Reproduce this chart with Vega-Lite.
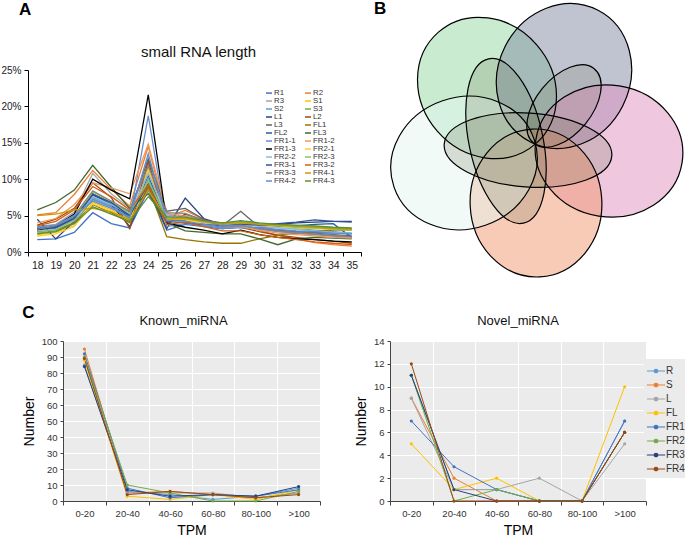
{
"$schema":"https://vega.github.io/schema/vega-lite/v6.json",
"padding":{"left":0,"top":0,"right":0,"bottom":0},
"background":"white",
"config":{"font":"Liberation Sans","view":{"stroke":null},"title":{"fontWeight":"normal","color":"#111"},"axis":{"labelFont":"Liberation Sans","titleFont":"Liberation Sans","titleFontWeight":"normal"}},
"datasets":{
"lens":[
{"s":"R1","x":18,"v":1.7},{"s":"R1","x":19,"v":1.8},{"s":"R1","x":20,"v":2.7},{"s":"R1","x":21,"v":5.4},{"s":"R1","x":22,"v":3.9},{"s":"R1","x":23,"v":3.3},{"s":"R1","x":24,"v":8.5},{"s":"R1","x":25,"v":3.0},{"s":"R1","x":26,"v":3.8},{"s":"R1","x":27,"v":3.5},{"s":"R1","x":28,"v":3.2},{"s":"R1","x":29,"v":3.5},{"s":"R1","x":30,"v":3.2},{"s":"R1","x":31,"v":3.0},{"s":"R1","x":32,"v":2.8},{"s":"R1","x":33,"v":2.7},{"s":"R1","x":34,"v":2.6},{"s":"R1","x":35,"v":2.5},
{"s":"R2","x":18,"v":5.1},{"s":"R2","x":19,"v":5.4},{"s":"R2","x":20,"v":7.9},{"s":"R2","x":21,"v":11.2},{"s":"R2","x":22,"v":8.6},{"s":"R2","x":23,"v":6.3},{"s":"R2","x":24,"v":14.5},{"s":"R2","x":25,"v":4.8},{"s":"R2","x":26,"v":5.7},{"s":"R2","x":27,"v":4.5},{"s":"R2","x":28,"v":3.5},{"s":"R2","x":29,"v":3.8},{"s":"R2","x":30,"v":3.0},{"s":"R2","x":31,"v":2.3},{"s":"R2","x":32,"v":1.8},{"s":"R2","x":33,"v":1.3},{"s":"R2","x":34,"v":1.0},{"s":"R2","x":35,"v":0.8},
{"s":"R3","x":18,"v":3.5},{"s":"R3","x":19,"v":3.8},{"s":"R3","x":20,"v":5.5},{"s":"R3","x":21,"v":10.8},{"s":"R3","x":22,"v":8.0},{"s":"R3","x":23,"v":6.0},{"s":"R3","x":24,"v":12.0},{"s":"R3","x":25,"v":5.2},{"s":"R3","x":26,"v":5.0},{"s":"R3","x":27,"v":4.2},{"s":"R3","x":28,"v":3.5},{"s":"R3","x":29,"v":3.6},{"s":"R3","x":30,"v":3.2},{"s":"R3","x":31,"v":2.8},{"s":"R3","x":32,"v":2.6},{"s":"R3","x":33,"v":2.4},{"s":"R3","x":34,"v":2.2},{"s":"R3","x":35,"v":2.0},
{"s":"S1","x":18,"v":2.4},{"s":"S1","x":19,"v":2.7},{"s":"S1","x":20,"v":3.6},{"s":"S1","x":21,"v":6.8},{"s":"S1","x":22,"v":5.8},{"s":"S1","x":23,"v":4.5},{"s":"S1","x":24,"v":11.5},{"s":"S1","x":25,"v":4.6},{"s":"S1","x":26,"v":4.5},{"s":"S1","x":27,"v":4.0},{"s":"S1","x":28,"v":3.6},{"s":"S1","x":29,"v":3.9},{"s":"S1","x":30,"v":3.8},{"s":"S1","x":31,"v":3.7},{"s":"S1","x":32,"v":3.5},{"s":"S1","x":33,"v":3.4},{"s":"S1","x":34,"v":3.3},{"s":"S1","x":35,"v":3.2},
{"s":"S2","x":18,"v":3.0},{"s":"S2","x":19,"v":3.2},{"s":"S2","x":20,"v":4.4},{"s":"S2","x":21,"v":7.5},{"s":"S2","x":22,"v":6.4},{"s":"S2","x":23,"v":5.0},{"s":"S2","x":24,"v":10.0},{"s":"S2","x":25,"v":5.0},{"s":"S2","x":26,"v":4.8},{"s":"S2","x":27,"v":4.2},{"s":"S2","x":28,"v":3.8},{"s":"S2","x":29,"v":4.2},{"s":"S2","x":30,"v":3.6},{"s":"S2","x":31,"v":3.4},{"s":"S2","x":32,"v":3.2},{"s":"S2","x":33,"v":3.0},{"s":"S2","x":34,"v":2.8},{"s":"S2","x":35,"v":2.6},
{"s":"S3","x":18,"v":2.6},{"s":"S3","x":19,"v":2.9},{"s":"S3","x":20,"v":4.0},{"s":"S3","x":21,"v":7.2},{"s":"S3","x":22,"v":6.2},{"s":"S3","x":23,"v":4.6},{"s":"S3","x":24,"v":9.5},{"s":"S3","x":25,"v":4.9},{"s":"S3","x":26,"v":4.8},{"s":"S3","x":27,"v":4.3},{"s":"S3","x":28,"v":4.0},{"s":"S3","x":29,"v":4.1},{"s":"S3","x":30,"v":3.9},{"s":"S3","x":31,"v":3.8},{"s":"S3","x":32,"v":3.6},{"s":"S3","x":33,"v":3.5},{"s":"S3","x":34,"v":3.3},{"s":"S3","x":35,"v":3.2},
{"s":"L1","x":18,"v":4.5},{"s":"L1","x":19,"v":1.8},{"s":"L1","x":20,"v":4.2},{"s":"L1","x":21,"v":8.0},{"s":"L1","x":22,"v":6.5},{"s":"L1","x":23,"v":3.5},{"s":"L1","x":24,"v":9.0},{"s":"L1","x":25,"v":3.2},{"s":"L1","x":26,"v":7.4},{"s":"L1","x":27,"v":4.6},{"s":"L1","x":28,"v":3.8},{"s":"L1","x":29,"v":3.8},{"s":"L1","x":30,"v":3.6},{"s":"L1","x":31,"v":3.8},{"s":"L1","x":32,"v":4.0},{"s":"L1","x":33,"v":4.1},{"s":"L1","x":34,"v":4.2},{"s":"L1","x":35,"v":4.2},
{"s":"L2","x":18,"v":3.7},{"s":"L2","x":19,"v":4.5},{"s":"L2","x":20,"v":6.0},{"s":"L2","x":21,"v":9.5},{"s":"L2","x":22,"v":7.5},{"s":"L2","x":23,"v":3.2},{"s":"L2","x":24,"v":12.5},{"s":"L2","x":25,"v":3.8},{"s":"L2","x":26,"v":5.2},{"s":"L2","x":27,"v":4.4},{"s":"L2","x":28,"v":3.4},{"s":"L2","x":29,"v":3.4},{"s":"L2","x":30,"v":2.8},{"s":"L2","x":31,"v":2.3},{"s":"L2","x":32,"v":2.0},{"s":"L2","x":33,"v":1.7},{"s":"L2","x":34,"v":1.5},{"s":"L2","x":35,"v":1.2},
{"s":"L3","x":18,"v":3.0},{"s":"L3","x":19,"v":3.4},{"s":"L3","x":20,"v":4.8},{"s":"L3","x":21,"v":8.0},{"s":"L3","x":22,"v":6.8},{"s":"L3","x":23,"v":5.5},{"s":"L3","x":24,"v":12.8},{"s":"L3","x":25,"v":5.6},{"s":"L3","x":26,"v":6.0},{"s":"L3","x":27,"v":4.5},{"s":"L3","x":28,"v":3.6},{"s":"L3","x":29,"v":5.6},{"s":"L3","x":30,"v":3.4},{"s":"L3","x":31,"v":3.0},{"s":"L3","x":32,"v":2.8},{"s":"L3","x":33,"v":2.6},{"s":"L3","x":34,"v":2.4},{"s":"L3","x":35,"v":2.2},
{"s":"FL1","x":18,"v":2.8},{"s":"FL1","x":19,"v":3.0},{"s":"FL1","x":20,"v":4.0},{"s":"FL1","x":21,"v":6.5},{"s":"FL1","x":22,"v":5.4},{"s":"FL1","x":23,"v":4.0},{"s":"FL1","x":24,"v":9.0},{"s":"FL1","x":25,"v":2.1},{"s":"FL1","x":26,"v":1.7},{"s":"FL1","x":27,"v":1.4},{"s":"FL1","x":28,"v":1.2},{"s":"FL1","x":29,"v":1.2},{"s":"FL1","x":30,"v":1.8},{"s":"FL1","x":31,"v":2.3},{"s":"FL1","x":32,"v":2.6},{"s":"FL1","x":33,"v":2.8},{"s":"FL1","x":34,"v":3.0},{"s":"FL1","x":35,"v":3.0},
{"s":"FL2","x":18,"v":3.2},{"s":"FL2","x":19,"v":3.3},{"s":"FL2","x":20,"v":4.6},{"s":"FL2","x":21,"v":7.8},{"s":"FL2","x":22,"v":6.6},{"s":"FL2","x":23,"v":4.8},{"s":"FL2","x":24,"v":10.5},{"s":"FL2","x":25,"v":4.4},{"s":"FL2","x":26,"v":4.3},{"s":"FL2","x":27,"v":3.6},{"s":"FL2","x":28,"v":3.2},{"s":"FL2","x":29,"v":3.4},{"s":"FL2","x":30,"v":3.3},{"s":"FL2","x":31,"v":3.5},{"s":"FL2","x":32,"v":3.6},{"s":"FL2","x":33,"v":3.8},{"s":"FL2","x":34,"v":3.9},{"s":"FL2","x":35,"v":2.0},
{"s":"FL3","x":18,"v":5.8},{"s":"FL3","x":19,"v":6.8},{"s":"FL3","x":20,"v":8.5},{"s":"FL3","x":21,"v":11.9},{"s":"FL3","x":22,"v":8.9},{"s":"FL3","x":23,"v":6.0},{"s":"FL3","x":24,"v":8.0},{"s":"FL3","x":25,"v":4.0},{"s":"FL3","x":26,"v":2.9},{"s":"FL3","x":27,"v":2.7},{"s":"FL3","x":28,"v":2.5},{"s":"FL3","x":29,"v":2.5},{"s":"FL3","x":30,"v":1.8},{"s":"FL3","x":31,"v":1.0},{"s":"FL3","x":32,"v":1.8},{"s":"FL3","x":33,"v":2.0},{"s":"FL3","x":34,"v":1.9},{"s":"FL3","x":35,"v":1.8},
{"s":"FR1-1","x":18,"v":3.3},{"s":"FR1-1","x":19,"v":3.5},{"s":"FR1-1","x":20,"v":4.9},{"s":"FR1-1","x":21,"v":7.3},{"s":"FR1-1","x":22,"v":6.2},{"s":"FR1-1","x":23,"v":4.6},{"s":"FR1-1","x":24,"v":18.7},{"s":"FR1-1","x":25,"v":3.5},{"s":"FR1-1","x":26,"v":3.9},{"s":"FR1-1","x":27,"v":3.6},{"s":"FR1-1","x":28,"v":3.2},{"s":"FR1-1","x":29,"v":3.4},{"s":"FR1-1","x":30,"v":3.1},{"s":"FR1-1","x":31,"v":2.8},{"s":"FR1-1","x":32,"v":2.6},{"s":"FR1-1","x":33,"v":2.4},{"s":"FR1-1","x":34,"v":2.2},{"s":"FR1-1","x":35,"v":2.0},
{"s":"FR1-2","x":18,"v":4.0},{"s":"FR1-2","x":19,"v":4.6},{"s":"FR1-2","x":20,"v":6.5},{"s":"FR1-2","x":21,"v":9.5},{"s":"FR1-2","x":22,"v":8.8},{"s":"FR1-2","x":23,"v":8.0},{"s":"FR1-2","x":24,"v":14.8},{"s":"FR1-2","x":25,"v":5.3},{"s":"FR1-2","x":26,"v":4.9},{"s":"FR1-2","x":27,"v":4.0},{"s":"FR1-2","x":28,"v":3.4},{"s":"FR1-2","x":29,"v":3.5},{"s":"FR1-2","x":30,"v":3.0},{"s":"FR1-2","x":31,"v":2.6},{"s":"FR1-2","x":32,"v":2.4},{"s":"FR1-2","x":33,"v":2.2},{"s":"FR1-2","x":34,"v":2.0},{"s":"FR1-2","x":35,"v":1.9},
{"s":"FR1-3","x":18,"v":3.0},{"s":"FR1-3","x":19,"v":3.6},{"s":"FR1-3","x":20,"v":5.2},{"s":"FR1-3","x":21,"v":10.0},{"s":"FR1-3","x":22,"v":8.5},{"s":"FR1-3","x":23,"v":7.3},{"s":"FR1-3","x":24,"v":21.6},{"s":"FR1-3","x":25,"v":4.0},{"s":"FR1-3","x":26,"v":3.4},{"s":"FR1-3","x":27,"v":3.0},{"s":"FR1-3","x":28,"v":2.5},{"s":"FR1-3","x":29,"v":3.0},{"s":"FR1-3","x":30,"v":2.4},{"s":"FR1-3","x":31,"v":2.0},{"s":"FR1-3","x":32,"v":1.8},{"s":"FR1-3","x":33,"v":1.7},{"s":"FR1-3","x":34,"v":1.5},{"s":"FR1-3","x":35,"v":1.4},
{"s":"FR2-1","x":18,"v":2.2},{"s":"FR2-1","x":19,"v":2.5},{"s":"FR2-1","x":20,"v":3.5},{"s":"FR2-1","x":21,"v":6.6},{"s":"FR2-1","x":22,"v":5.6},{"s":"FR2-1","x":23,"v":4.3},{"s":"FR2-1","x":24,"v":11.0},{"s":"FR2-1","x":25,"v":4.6},{"s":"FR2-1","x":26,"v":4.4},{"s":"FR2-1","x":27,"v":3.9},{"s":"FR2-1","x":28,"v":3.6},{"s":"FR2-1","x":29,"v":3.7},{"s":"FR2-1","x":30,"v":3.6},{"s":"FR2-1","x":31,"v":3.4},{"s":"FR2-1","x":32,"v":3.3},{"s":"FR2-1","x":33,"v":3.2},{"s":"FR2-1","x":34,"v":3.1},{"s":"FR2-1","x":35,"v":3.0},
{"s":"FR2-2","x":18,"v":2.9},{"s":"FR2-2","x":19,"v":3.1},{"s":"FR2-2","x":20,"v":4.3},{"s":"FR2-2","x":21,"v":7.6},{"s":"FR2-2","x":22,"v":6.5},{"s":"FR2-2","x":23,"v":5.2},{"s":"FR2-2","x":24,"v":10.8},{"s":"FR2-2","x":25,"v":5.0},{"s":"FR2-2","x":26,"v":4.7},{"s":"FR2-2","x":27,"v":4.1},{"s":"FR2-2","x":28,"v":3.7},{"s":"FR2-2","x":29,"v":3.9},{"s":"FR2-2","x":30,"v":3.5},{"s":"FR2-2","x":31,"v":3.3},{"s":"FR2-2","x":32,"v":3.1},{"s":"FR2-2","x":33,"v":2.9},{"s":"FR2-2","x":34,"v":2.7},{"s":"FR2-2","x":35,"v":2.6},
{"s":"FR2-3","x":18,"v":2.7},{"s":"FR2-3","x":19,"v":3.0},{"s":"FR2-3","x":20,"v":4.4},{"s":"FR2-3","x":21,"v":8.3},{"s":"FR2-3","x":22,"v":6.9},{"s":"FR2-3","x":23,"v":5.3},{"s":"FR2-3","x":24,"v":9.8},{"s":"FR2-3","x":25,"v":4.7},{"s":"FR2-3","x":26,"v":4.6},{"s":"FR2-3","x":27,"v":4.2},{"s":"FR2-3","x":28,"v":3.9},{"s":"FR2-3","x":29,"v":4.0},{"s":"FR2-3","x":30,"v":3.8},{"s":"FR2-3","x":31,"v":3.6},{"s":"FR2-3","x":32,"v":3.4},{"s":"FR2-3","x":33,"v":3.3},{"s":"FR2-3","x":34,"v":3.1},{"s":"FR2-3","x":35,"v":3.0},
{"s":"FR3-1","x":18,"v":3.2},{"s":"FR3-1","x":19,"v":3.4},{"s":"FR3-1","x":20,"v":4.6},{"s":"FR3-1","x":21,"v":7.9},{"s":"FR3-1","x":22,"v":6.8},{"s":"FR3-1","x":23,"v":5.0},{"s":"FR3-1","x":24,"v":9.3},{"s":"FR3-1","x":25,"v":4.2},{"s":"FR3-1","x":26,"v":4.0},{"s":"FR3-1","x":27,"v":3.8},{"s":"FR3-1","x":28,"v":3.6},{"s":"FR3-1","x":29,"v":3.8},{"s":"FR3-1","x":30,"v":3.7},{"s":"FR3-1","x":31,"v":3.9},{"s":"FR3-1","x":32,"v":4.1},{"s":"FR3-1","x":33,"v":4.4},{"s":"FR3-1","x":34,"v":4.2},{"s":"FR3-1","x":35,"v":4.1},
{"s":"FR3-2","x":18,"v":3.6},{"s":"FR3-2","x":19,"v":4.2},{"s":"FR3-2","x":20,"v":5.8},{"s":"FR3-2","x":21,"v":9.0},{"s":"FR3-2","x":22,"v":7.6},{"s":"FR3-2","x":23,"v":5.8},{"s":"FR3-2","x":24,"v":9.2},{"s":"FR3-2","x":25,"v":3.8},{"s":"FR3-2","x":26,"v":4.1},{"s":"FR3-2","x":27,"v":3.5},{"s":"FR3-2","x":28,"v":2.9},{"s":"FR3-2","x":29,"v":2.9},{"s":"FR3-2","x":30,"v":2.4},{"s":"FR3-2","x":31,"v":2.0},{"s":"FR3-2","x":32,"v":1.7},{"s":"FR3-2","x":33,"v":1.4},{"s":"FR3-2","x":34,"v":1.2},{"s":"FR3-2","x":35,"v":1.0},
{"s":"FR3-3","x":18,"v":3.1},{"s":"FR3-3","x":19,"v":3.6},{"s":"FR3-3","x":20,"v":5.0},{"s":"FR3-3","x":21,"v":8.4},{"s":"FR3-3","x":22,"v":7.0},{"s":"FR3-3","x":23,"v":5.6},{"s":"FR3-3","x":24,"v":11.8},{"s":"FR3-3","x":25,"v":5.4},{"s":"FR3-3","x":26,"v":5.3},{"s":"FR3-3","x":27,"v":4.3},{"s":"FR3-3","x":28,"v":3.6},{"s":"FR3-3","x":29,"v":3.7},{"s":"FR3-3","x":30,"v":3.2},{"s":"FR3-3","x":31,"v":2.9},{"s":"FR3-3","x":32,"v":2.7},{"s":"FR3-3","x":33,"v":2.5},{"s":"FR3-3","x":34,"v":2.3},{"s":"FR3-3","x":35,"v":2.1},
{"s":"FR4-1","x":18,"v":5.0},{"s":"FR4-1","x":19,"v":5.2},{"s":"FR4-1","x":20,"v":5.8},{"s":"FR4-1","x":21,"v":6.0},{"s":"FR4-1","x":22,"v":5.5},{"s":"FR4-1","x":23,"v":4.4},{"s":"FR4-1","x":24,"v":8.5},{"s":"FR4-1","x":25,"v":4.5},{"s":"FR4-1","x":26,"v":4.6},{"s":"FR4-1","x":27,"v":4.2},{"s":"FR4-1","x":28,"v":3.9},{"s":"FR4-1","x":29,"v":4.0},{"s":"FR4-1","x":30,"v":3.8},{"s":"FR4-1","x":31,"v":3.7},{"s":"FR4-1","x":32,"v":3.6},{"s":"FR4-1","x":33,"v":3.4},{"s":"FR4-1","x":34,"v":3.2},{"s":"FR4-1","x":35,"v":3.1},
{"s":"FR4-2","x":18,"v":3.4},{"s":"FR4-2","x":19,"v":3.7},{"s":"FR4-2","x":20,"v":5.0},{"s":"FR4-2","x":21,"v":7.0},{"s":"FR4-2","x":22,"v":6.0},{"s":"FR4-2","x":23,"v":4.8},{"s":"FR4-2","x":24,"v":13.5},{"s":"FR4-2","x":25,"v":4.3},{"s":"FR4-2","x":26,"v":4.2},{"s":"FR4-2","x":27,"v":3.8},{"s":"FR4-2","x":28,"v":3.4},{"s":"FR4-2","x":29,"v":3.6},{"s":"FR4-2","x":30,"v":3.3},{"s":"FR4-2","x":31,"v":3.1},{"s":"FR4-2","x":32,"v":2.9},{"s":"FR4-2","x":33,"v":2.8},{"s":"FR4-2","x":34,"v":2.6},{"s":"FR4-2","x":35,"v":2.5},
{"s":"FR4-3","x":18,"v":2.5},{"s":"FR4-3","x":19,"v":2.8},{"s":"FR4-3","x":20,"v":3.9},{"s":"FR4-3","x":21,"v":6.2},{"s":"FR4-3","x":22,"v":5.2},{"s":"FR4-3","x":23,"v":4.2},{"s":"FR4-3","x":24,"v":7.6},{"s":"FR4-3","x":25,"v":4.8},{"s":"FR4-3","x":26,"v":4.8},{"s":"FR4-3","x":27,"v":4.3},{"s":"FR4-3","x":28,"v":4.0},{"s":"FR4-3","x":29,"v":4.3},{"s":"FR4-3","x":30,"v":4.0},{"s":"FR4-3","x":31,"v":3.8},{"s":"FR4-3","x":32,"v":3.7},{"s":"FR4-3","x":33,"v":3.6},{"s":"FR4-3","x":34,"v":3.4},{"s":"FR4-3","x":35,"v":3.3}
],
"venn":[
{"set":"s1","kind":"outer","cx":-45,"cy":51,"ang":49},
{"set":"s2","kind":"outer","cx":32,"cy":63,"ang":117},
{"set":"s3","kind":"outer","cx":77,"cy":-12,"ang":9},
{"set":"s4","kind":"outer","cx":4,"cy":-64,"ang":87},
{"set":"s5","kind":"outer","cx":-68,"cy":-24,"ang":161},
{"set":"i1","kind":"long","cx":-26,"cy":-2,"ang":78},
{"set":"i2","kind":"long","cx":-4,"cy":-11,"ang":4},
{"set":"i3","kind":"short","cx":32,"cy":33,"ang":129}
],
"known":[
{"s":"R","t":"0-20","v":85},{"s":"R","t":"20-40","v":6},{"s":"R","t":"40-60","v":4},{"s":"R","t":"60-80","v":1},{"s":"R","t":"80-100","v":3},{"s":"R","t":">100","v":8},
{"s":"S","t":"0-20","v":95},{"s":"S","t":"20-40","v":5},{"s":"S","t":"40-60","v":6},{"s":"S","t":"60-80","v":4},{"s":"S","t":"80-100","v":2},{"s":"S","t":">100","v":5},
{"s":"L","t":"0-20","v":90},{"s":"L","t":"20-40","v":5},{"s":"L","t":"40-60","v":5},{"s":"L","t":"60-80","v":5},{"s":"L","t":"80-100","v":2},{"s":"L","t":">100","v":5},
{"s":"FL","t":"0-20","v":88},{"s":"FL","t":"20-40","v":3},{"s":"FL","t":"40-60","v":1},{"s":"FL","t":"60-80","v":4},{"s":"FL","t":"80-100","v":1},{"s":"FL","t":">100","v":7},
{"s":"FR1","t":"0-20","v":92},{"s":"FR1","t":"20-40","v":8},{"s":"FR1","t":"40-60","v":2},{"s":"FR1","t":"60-80","v":4},{"s":"FR1","t":"80-100","v":3},{"s":"FR1","t":">100","v":7},
{"s":"FR2","t":"0-20","v":90},{"s":"FR2","t":"20-40","v":10},{"s":"FR2","t":"40-60","v":5},{"s":"FR2","t":"60-80","v":0},{"s":"FR2","t":"80-100","v":0},{"s":"FR2","t":">100","v":6},
{"s":"FR3","t":"0-20","v":84},{"s":"FR3","t":"20-40","v":7},{"s":"FR3","t":"40-60","v":3},{"s":"FR3","t":"60-80","v":4},{"s":"FR3","t":"80-100","v":3},{"s":"FR3","t":">100","v":9},
{"s":"FR4","t":"0-20","v":89},{"s":"FR4","t":"20-40","v":4},{"s":"FR4","t":"40-60","v":6},{"s":"FR4","t":"60-80","v":4},{"s":"FR4","t":"80-100","v":2},{"s":"FR4","t":">100","v":4}
],
"novel":[
{"s":"R","t":"0-20","v":11},{"s":"R","t":"20-40","v":1},{"s":"R","t":"40-60","v":1},{"s":"R","t":"60-80","v":0},{"s":"R","t":"80-100","v":0},{"s":"R","t":">100","v":7},
{"s":"S","t":"0-20","v":9},{"s":"S","t":"20-40","v":2},{"s":"S","t":"40-60","v":0},{"s":"S","t":"60-80","v":0},{"s":"S","t":"80-100","v":0},{"s":"S","t":">100","v":6},
{"s":"L","t":"0-20","v":9},{"s":"L","t":"20-40","v":1},{"s":"L","t":"40-60","v":1},{"s":"L","t":"60-80","v":2},{"s":"L","t":"80-100","v":0},{"s":"L","t":">100","v":5},
{"s":"FL","t":"0-20","v":5},{"s":"FL","t":"20-40","v":1},{"s":"FL","t":"40-60","v":2},{"s":"FL","t":"60-80","v":0},{"s":"FL","t":"80-100","v":0},{"s":"FL","t":">100","v":10},
{"s":"FR1","t":"0-20","v":7},{"s":"FR1","t":"20-40","v":3},{"s":"FR1","t":"40-60","v":1},{"s":"FR1","t":"60-80","v":0},{"s":"FR1","t":"80-100","v":0},{"s":"FR1","t":">100","v":7},
{"s":"FR2","t":"0-20","v":11},{"s":"FR2","t":"20-40","v":0},{"s":"FR2","t":"40-60","v":1},{"s":"FR2","t":"60-80","v":0},{"s":"FR2","t":"80-100","v":0},{"s":"FR2","t":">100","v":6},
{"s":"FR3","t":"0-20","v":11},{"s":"FR3","t":"20-40","v":1},{"s":"FR3","t":"40-60","v":0},{"s":"FR3","t":"60-80","v":0},{"s":"FR3","t":"80-100","v":0},{"s":"FR3","t":">100","v":6},
{"s":"FR4","t":"0-20","v":12},{"s":"FR4","t":"20-40","v":0},{"s":"FR4","t":"40-60","v":0},{"s":"FR4","t":"60-80","v":0},{"s":"FR4","t":"80-100","v":0},{"s":"FR4","t":">100","v":6}
]
},
"resolve":{"scale":{"color":"independent"},"legend":{"color":"independent"}},
"spacing":24,
"center":true,
"vconcat":[
{"resolve":{"scale":{"color":"independent"},"legend":{"color":"independent"}},
 "hconcat":[
 {"title":{"text":"A","anchor":"start","fontSize":17,"fontWeight":"bold","dx":18,"offset":26,"color":"#000"},
  "vconcat":[
  {"width":333,"height":182,
   "title":{"text":"small RNA length","fontSize":15,"offset":5,"frame":"group","dx":4},
   "data":{"name":"lens"},
   "mark":{"type":"line","strokeWidth":1.3},
   "encoding":{
    "x":{"field":"x","type":"ordinal","bandPosition":0.5,"scale":{"type":"band","paddingInner":0,"paddingOuter":0},
         "axis":{"title":null,"labelAngle":0,"tickBand":"extent","domainColor":"#000","tickColor":"#000","tickSize":4,"labelFontSize":10.5,"labelColor":"#222","labelPadding":4}},
    "y":{"field":"v","type":"quantitative","scale":{"domain":[0,25]},
         "axis":{"title":null,"values":[0,5,10,15,20,25],"labelExpr":"datum.value + '%'","grid":false,"domainColor":"#000","tickColor":"#000","tickSize":4,"labelFontSize":10,"labelColor":"#222","labelPadding":3}},
    "color":{"field":"s","type":"nominal",
      "scale":{"domain":["R1","R2","R3","S1","S2","S3","L1","L2","L3","FL1","FL2","FL3","FR1-1","FR1-2","FR1-3","FR2-1","FR2-2","FR2-3","FR3-1","FR3-2","FR3-3","FR4-1","FR4-2","FR4-3"],
               "range":["#4472C4","#ED7D31","#A5A5A5","#FFC000","#5B9BD5","#70AD47","#264478","#9E480E","#636363","#997300","#255E91","#43682B","#698ED0","#F1975A","#000000","#FFCD33","#8DB9E2","#8CC168","#31519A","#D26012","#848484","#CC9A00","#5F8FD0","#5C8F39"]},
      "legend":{"orient":"none","legendX":237,"legendY":19,"columns":2,"direction":"horizontal","title":null,"symbolType":"stroke","symbolSize":36,"symbolStrokeWidth":1.5,"labelFontSize":7.8,"labelColor":"#333","rowPadding":0,"columnPadding":6,"labelOffset":1,"padding":0}}
   }}
  ]},
 {"width":354,"height":207,
  "title":{"text":"B","anchor":"start","fontSize":17,"fontWeight":"bold","dx":4,"offset":-17,"color":"#000"},
  "data":{"name":"venn"},
  "encoding":{
    "x":{"field":"cx","type":"quantitative","scale":{"domain":[-162,192],"nice":false,"zero":false},"axis":null},
    "y":{"field":"cy","type":"quantitative","scale":{"domain":[-138,69],"nice":false,"zero":false},"axis":null},
    "angle":{"field":"ang","type":"quantitative","scale":{"domain":[0,360],"range":[0,360]}}
  },
  "layer":[
   {"transform":[{"filter":"datum.kind == 'outer'"}],
    "mark":{"type":"point","filled":true,"shape":"M-1,0A1,0.89,0,1,1,1,0A1,0.89,0,1,1,-1,0Z","size":21904,"opacity":0.5,"strokeWidth":0},
    "encoding":{"color":{"field":"set","type":"nominal","scale":{"domain":["s1","s2","s3","s4","s5"],"range":["#93d9a1","#8189a1","#df91c1","#f1976f","#e5f5f1"]},"legend":null}}},
   {"transform":[{"filter":"datum.kind == 'long'"}],
    "mark":{"type":"point","filled":true,"shape":"M-1,0A1,0.44,0,1,1,1,0A1,0.44,0,1,1,-1,0Z","size":28224,"color":"#6f7050","opacity":0.22,"strokeWidth":0}},
   {"transform":[{"filter":"datum.kind == 'short'"}],
    "mark":{"type":"point","filled":true,"shape":"M-1,0A1,0.58,0,1,1,1,0A1,0.58,0,1,1,-1,0Z","size":9216,"color":"#6f7050","opacity":0.18,"strokeWidth":0}},
   {"transform":[{"filter":"datum.kind == 'outer'"}],
    "mark":{"type":"point","filled":false,"shape":"M-1,0A1,0.89,0,1,1,1,0A1,0.89,0,1,1,-1,0Z","size":21904,"color":"#000","opacity":1,"strokeWidth":1.2}},
   {"transform":[{"filter":"datum.kind == 'long'"}],
    "mark":{"type":"point","filled":false,"shape":"M-1,0A1,0.44,0,1,1,1,0A1,0.44,0,1,1,-1,0Z","size":28224,"color":"#000","opacity":1,"strokeWidth":1.2}},
   {"transform":[{"filter":"datum.kind == 'short'"}],
    "mark":{"type":"point","filled":false,"shape":"M-1,0A1,0.58,0,1,1,1,0A1,0.58,0,1,1,-1,0Z","size":9216,"color":"#000","opacity":1,"strokeWidth":1.2}}
  ]}
 ],"spacing":8},
{"title":{"text":"C","anchor":"start","fontSize":17,"fontWeight":"bold","dx":0,"offset":-7,"color":"#000"},
 "resolve":{"scale":{"color":"independent"},"legend":{"color":"independent"}},
 "spacing":33,
 "hconcat":[
 {"width":257,"height":160,
  "view":{"fill":"#ebebeb","stroke":null},
  "title":{"text":"Known_miRNA","fontSize":13,"offset":8,"frame":"group","dx":-8},
  "data":{"name":"known"},
  "mark":{"type":"line","strokeWidth":1,"point":{"filled":true,"size":10}},
  "encoding":{
   "x":{"field":"t","type":"ordinal","bandPosition":0.5,"sort":["0-20","20-40","40-60","60-80","80-100",">100"],"scale":{"type":"band","paddingInner":0,"paddingOuter":0},
        "axis":{"title":"TPM","titleFontSize":14,"titlePadding":6,"labelAngle":0,"tickBand":"extent","grid":true,"gridColor":"#ffffff","gridWidth":1,"domainColor":"#444","tickColor":"#444","tickSize":4,"labelFontSize":9.5,"labelColor":"#333","labelPadding":3}},
   "y":{"field":"v","type":"quantitative","scale":{"domain":[0,100]},
        "axis":{"title":"Number","titleFontSize":14,"titlePadding":5,"values":[0,10,20,30,40,50,60,70,80,90,100],"grid":true,"gridColor":"#ffffff","domainColor":"#444","tickColor":"#444","tickSize":3,"labelFontSize":9.5,"labelColor":"#333","labelPadding":3}},
   "color":{"field":"s","type":"nominal","scale":{"domain":["R","S","L","FL","FR1","FR2","FR3","FR4"],"range":["#5B9BD5","#ED7D31","#A5A5A5","#FFC000","#4472C4","#70AD47","#264478","#9E480E"]},"legend":null}
  }},
 {"width":256,"height":160,
  "view":{"fill":"#ebebeb","stroke":null},
  "title":{"text":"Novel_miRNA","fontSize":13,"offset":8,"frame":"group"},
  "data":{"name":"novel"},
  "mark":{"type":"line","strokeWidth":1,"point":{"filled":true,"size":10}},
  "encoding":{
   "x":{"field":"t","type":"ordinal","bandPosition":0.5,"sort":["0-20","20-40","40-60","60-80","80-100",">100"],"scale":{"type":"band","paddingInner":0,"paddingOuter":0},
        "axis":{"title":"TPM","titleFontSize":14,"titlePadding":6,"labelAngle":0,"tickBand":"extent","grid":true,"gridColor":"#ffffff","gridWidth":1,"domainColor":"#444","tickColor":"#444","tickSize":4,"labelFontSize":9.5,"labelColor":"#333","labelPadding":3}},
   "y":{"field":"v","type":"quantitative","scale":{"domain":[0,14]},
        "axis":{"title":"Number","titleFontSize":14,"titlePadding":5,"values":[0,2,4,6,8,10,12,14],"grid":true,"gridColor":"#ffffff","domainColor":"#444","tickColor":"#444","tickSize":3,"labelFontSize":9.5,"labelColor":"#333","labelPadding":3}},
   "color":{"field":"s","type":"nominal","scale":{"domain":["R","S","L","FL","FR1","FR2","FR3","FR4"],"range":["#5B9BD5","#ED7D31","#A5A5A5","#FFC000","#4472C4","#70AD47","#264478","#9E480E"]},
     "legend":{"orient":"none","legendX":254,"legendY":18,"title":null,"fillColor":"#ebebeb","padding":4,"symbolType":"M-1.3,0H1.3M-0.25,0A0.25,0.25,0,1,0,0.25,0A0.25,0.25,0,1,0,-0.25,0","symbolSize":196,"symbolStrokeWidth":1.2,"symbolFillColor":"transparent","labelFontSize":10,"labelColor":"#333","labelOffset":2,"rowPadding":1}}
  }}
 ]}
]
}
